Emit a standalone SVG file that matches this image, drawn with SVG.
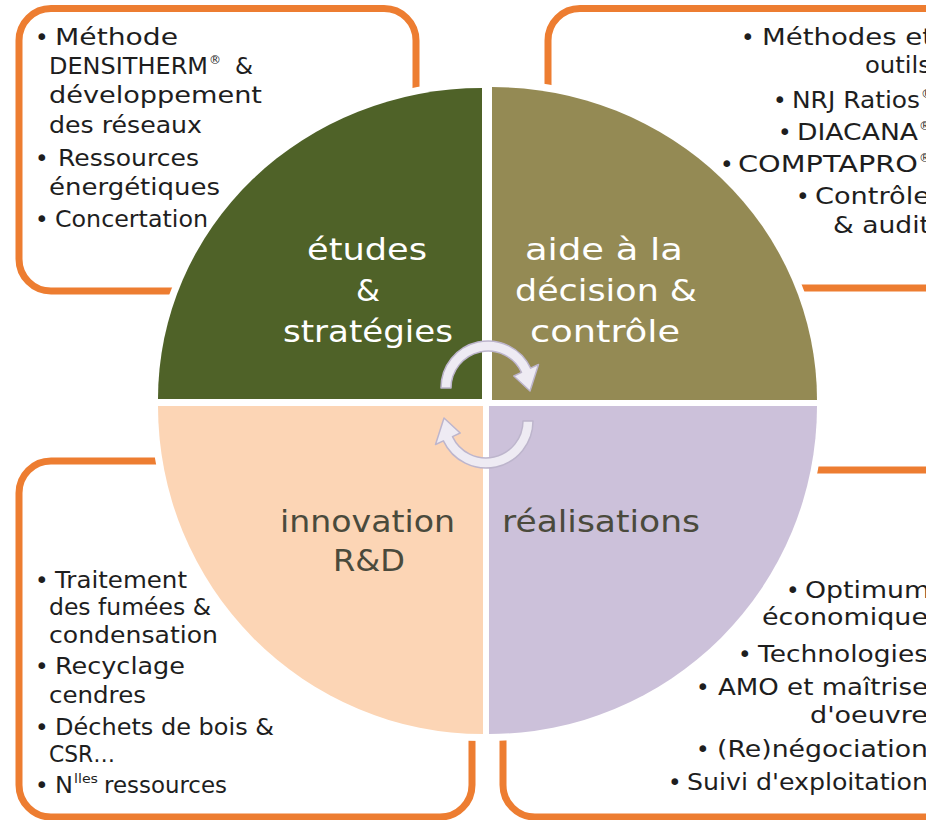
<svg xmlns="http://www.w3.org/2000/svg" width="926" height="820" viewBox="0 0 926 820">
  <defs>
    <style>
      .frame { fill: none; stroke: #ED7D31; stroke-width: 7; }
      .halo { fill: #FFFFFF; stroke: #FFFFFF; stroke-width: 14; stroke-linejoin: round; }
      .txt { font-family: "DejaVu Sans", "Liberation Sans", sans-serif; font-size: 23px; fill: #1E1E1E; }
      .sup { font-family: "DejaVu Sans", "Liberation Sans", sans-serif; font-size: 12px; fill: #1E1E1E; }
      .lbl { font-family: "DejaVu Sans", "Liberation Sans", sans-serif; font-size: 30px; }
      .light { fill: #FFFFFF; }
      .dark { fill: #4A4A3C; }
      .cyc { fill: #EEEBF3; stroke: #BDB5CC; stroke-width: 1.5; stroke-linejoin: round; }
    </style>
    <path id="cycleArrow" d="M -47 0 A 47 47 0 0 1 42.6 -19.9 L 50.5 -23.5 L 42 3 L 25.8 -12 L 33.5 -15.6 A 37 37 0 0 0 -37 0 Z"/>
  </defs>
  <rect width="926" height="820" fill="#FFFFFF"/>

  <!-- outlined text panels behind the wheel -->
  <g id="panel-etudes"><rect class="frame" x="19" y="8.5" width="397" height="282.5" rx="32"/></g>
  <g id="panel-decision"><rect class="frame" x="548" y="8.5" width="420" height="279.5" rx="32"/></g>
  <g id="panel-innovation"><rect class="frame" x="19" y="461" width="453" height="356" rx="32"/></g>
  <g id="panel-realisations"><rect class="frame" x="503" y="470" width="460" height="347" rx="32"/></g>

  <!-- white halo separating the wheel from the panel outlines -->
  <g id="wheel-halo">
    <path class="halo" d="M482,399 L158,399 A324,311 0 0 1 482,88 Z"/>
    <path class="halo" d="M492,400 L492,87 A325,313 0 0 1 817,400 Z"/>
    <path class="halo" d="M483,406 L483,734 A325,328 0 0 1 158,406 Z"/>
    <path class="halo" d="M489,406 L817,406 A328,328 0 0 1 489,734 Z"/>
  </g>

  <!-- wheel quadrants -->
  <g id="q-etudes">
    <path fill="#4F6228" d="M482,399 L158,399 A324,311 0 0 1 482,88 Z"/>
    <text class="lbl light" x="307" y="260" textLength="120" lengthAdjust="spacingAndGlyphs">études</text>
    <text class="lbl light" x="356" y="301" textLength="24" lengthAdjust="spacingAndGlyphs">&amp;</text>
    <text class="lbl light" x="283" y="342" textLength="170" lengthAdjust="spacingAndGlyphs">stratégies</text>
  </g>
  <g id="q-decision">
    <path fill="#948A54" d="M492,400 L492,87 A325,313 0 0 1 817,400 Z"/>
    <text class="lbl light" x="525" y="260" textLength="158" lengthAdjust="spacingAndGlyphs">aide à la</text>
    <text class="lbl light" x="515" y="301" textLength="182" lengthAdjust="spacingAndGlyphs">décision &amp;</text>
    <text class="lbl light" x="530" y="342" textLength="150" lengthAdjust="spacingAndGlyphs">contrôle</text>
  </g>
  <g id="q-innovation">
    <path fill="#FCD5B5" d="M483,406 L483,734 A325,328 0 0 1 158,406 Z"/>
    <text class="lbl dark" x="280" y="532" textLength="175" lengthAdjust="spacingAndGlyphs">innovation</text>
    <text class="lbl dark" x="333" y="571" textLength="72" lengthAdjust="spacingAndGlyphs">R&amp;D</text>
  </g>
  <g id="q-realisations">
    <path fill="#CCC1DA" d="M489,406 L817,406 A328,328 0 0 1 489,734 Z"/>
    <text class="lbl dark" x="502" y="532" textLength="198" lengthAdjust="spacingAndGlyphs">réalisations</text>
  </g>

  <!-- cycle arrows in the hub -->
  <g id="connectors">
    <use href="#cycleArrow" class="cyc" transform="translate(488,388)"/>
    <use href="#cycleArrow" class="cyc" transform="translate(486,421) rotate(180)"/>
  </g>

  <!-- panel contents -->
  <g id="list-etudes">
    <text class="txt" x="35" y="45">•</text>
    <text class="txt" x="55" y="45" textLength="123" lengthAdjust="spacingAndGlyphs">Méthode</text>
    <text class="txt" x="49" y="74" textLength="159" lengthAdjust="spacingAndGlyphs">DENSITHERM</text>
    <text class="sup" x="209" y="64">®</text>
    <text class="txt" x="235" y="74" textLength="18" lengthAdjust="spacingAndGlyphs">&amp;</text>
    <text class="txt" x="49" y="103" textLength="213" lengthAdjust="spacingAndGlyphs">développement</text>
    <text class="txt" x="49" y="133" textLength="153" lengthAdjust="spacingAndGlyphs">des réseaux</text>
    <text class="txt" x="35" y="166">•</text>
    <text class="txt" x="58" y="166" textLength="141" lengthAdjust="spacingAndGlyphs">Ressources</text>
    <text class="txt" x="49" y="195" textLength="171" lengthAdjust="spacingAndGlyphs">énergétiques</text>
    <text class="txt" x="35" y="227">•</text>
    <text class="txt" x="55" y="227" textLength="153" lengthAdjust="spacingAndGlyphs">Concertation</text>
  </g>

  <g id="list-decision">
    <text class="txt" x="741" y="45">•</text>
    <text class="txt" x="762" y="45" textLength="171" lengthAdjust="spacingAndGlyphs">Méthodes et</text>
    <text class="txt" x="865" y="73" textLength="66" lengthAdjust="spacingAndGlyphs">outils</text>
    <text class="txt" x="773" y="108">•</text>
    <text class="txt" x="792" y="108" textLength="128" lengthAdjust="spacingAndGlyphs">NRJ Ratios</text>
    <text class="sup" x="921" y="98">®</text>
    <text class="txt" x="778" y="140">•</text>
    <text class="txt" x="797" y="140" textLength="121" lengthAdjust="spacingAndGlyphs">DIACANA</text>
    <text class="sup" x="919" y="130">®</text>
    <text class="txt" x="720" y="172">•</text>
    <text class="txt" x="738" y="172" textLength="180" lengthAdjust="spacingAndGlyphs">COMPTAPRO</text>
    <text class="sup" x="919" y="162">®</text>
    <text class="txt" x="796" y="204">•</text>
    <text class="txt" x="815" y="204" textLength="115" lengthAdjust="spacingAndGlyphs">Contrôle</text>
    <text class="txt" x="833" y="233" textLength="97" lengthAdjust="spacingAndGlyphs">&amp; audit</text>
  </g>

  <g id="list-innovation">
    <text class="txt" x="35" y="588">•</text>
    <text class="txt" x="55" y="588" textLength="132" lengthAdjust="spacingAndGlyphs">Traitement</text>
    <text class="txt" x="49" y="615" textLength="162" lengthAdjust="spacingAndGlyphs">des fumées &amp;</text>
    <text class="txt" x="49" y="643" textLength="169" lengthAdjust="spacingAndGlyphs">condensation</text>
    <text class="txt" x="35" y="674">•</text>
    <text class="txt" x="55" y="674" textLength="130" lengthAdjust="spacingAndGlyphs">Recyclage</text>
    <text class="txt" x="49" y="703" textLength="97" lengthAdjust="spacingAndGlyphs">cendres</text>
    <text class="txt" x="35" y="735">•</text>
    <text class="txt" x="55" y="735" textLength="219" lengthAdjust="spacingAndGlyphs">Déchets de bois &amp;</text>
    <text class="txt" x="49" y="762" textLength="66" lengthAdjust="spacingAndGlyphs">CSR…</text>
    <text class="txt" x="35" y="793">•</text>
    <text class="txt" x="55" y="793" textLength="18" lengthAdjust="spacingAndGlyphs">N</text>
    <text class="sup" x="74" y="783" textLength="24" lengthAdjust="spacingAndGlyphs">lles</text>
    <text class="txt" x="104" y="793" textLength="123" lengthAdjust="spacingAndGlyphs">ressources</text>
  </g>

  <g id="list-realisations">
    <text class="txt" x="786" y="598">•</text>
    <text class="txt" x="805" y="598" textLength="125" lengthAdjust="spacingAndGlyphs">Optimum</text>
    <text class="txt" x="762" y="625" textLength="166" lengthAdjust="spacingAndGlyphs">économique</text>
    <text class="txt" x="738" y="662">•</text>
    <text class="txt" x="758" y="662" textLength="170" lengthAdjust="spacingAndGlyphs">Technologies</text>
    <text class="txt" x="696" y="695">•</text>
    <text class="txt" x="718" y="695" textLength="210" lengthAdjust="spacingAndGlyphs">AMO et maîtrise</text>
    <text class="txt" x="810" y="723" textLength="118" lengthAdjust="spacingAndGlyphs">d'oeuvre</text>
    <text class="txt" x="696" y="757">•</text>
    <text class="txt" x="717" y="757" textLength="211" lengthAdjust="spacingAndGlyphs">(Re)négociation</text>
    <text class="txt" x="668" y="790">•</text>
    <text class="txt" x="687" y="790" textLength="241" lengthAdjust="spacingAndGlyphs">Suivi d'exploitation</text>
  </g>
</svg>
